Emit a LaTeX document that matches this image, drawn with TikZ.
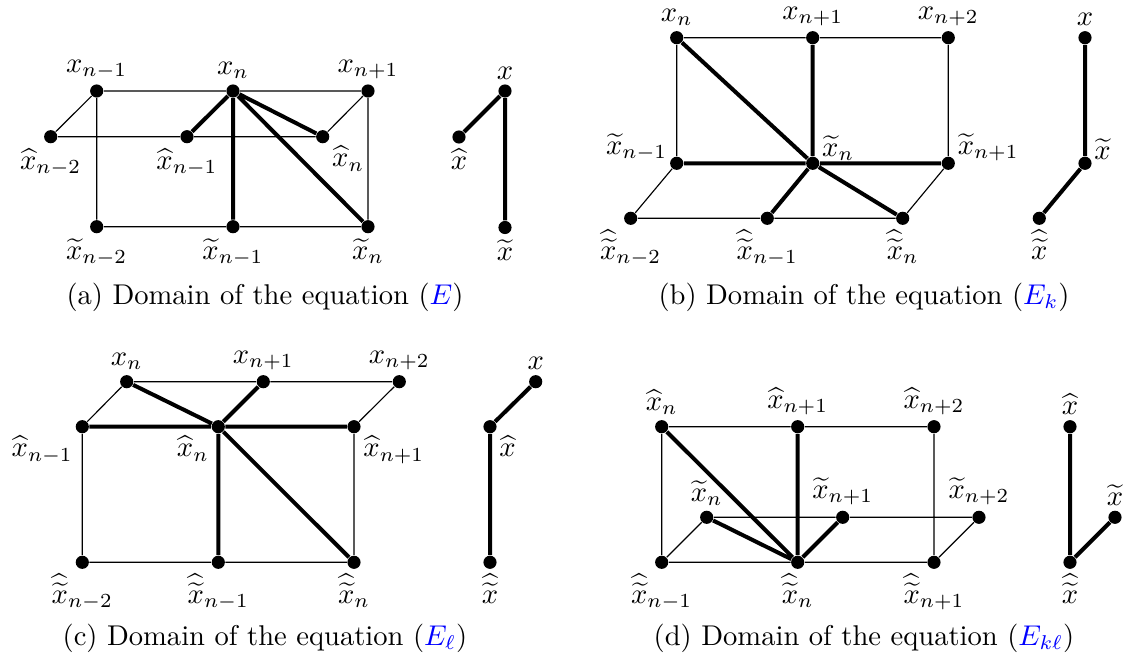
\documentclass[tikz,border=0pt]{standalone}
\usepackage{amsmath,amssymb}
\newcommand{\dbl}[1]{\widehat{\widetilde{#1}}}
\begin{document}
\begin{tikzpicture}[x=0.35pt,y=-0.35pt,
  dot/.style={circle,fill=black,inner sep=0pt,minimum size=4.6pt},
  thinl/.style={line width=0.4pt},
  boldl/.style={line width=1.4pt},
  every label/.style={inner sep=1pt},
  label distance=0.5pt]
\useasboundingbox (0,0) rectangle (1125,661);
% ---------------- (a)
\node[dot,label=above:{$x_{n-1}$}] (a1) at (96.7,91) {};
\node[dot,label=above:{$x_{n}$}] (a2) at (233,91) {};
\node[dot,label=above:{$x_{n+1}$}] (a3) at (368,91) {};
\node[dot,label=below:{$\widehat{x}_{n-2}$}] (a4) at (50.7,136.7) {};
\node[dot,label=below:{$\widehat{x}_{n-1}$}] (a5) at (187,136.7) {};
\node[dot,label=below right:{$\widehat{x}_{n}$}] (a6) at (322.7,136.7) {};
\node[dot,label=below:{$\widetilde{x}_{n-2}$}] (a7) at (96.7,226.7) {};
\node[dot,label=below:{$\widetilde{x}_{n-1}$}] (a8) at (233,226.7) {};
\node[dot,label=below:{$\widetilde{x}_{n}$}] (a9) at (368,226.7) {};
\draw[thinl] (a1)--(a2)--(a3) (a4)--(a5)--(a6) (a7)--(a8)--(a9)
  (a4)--(a1)--(a7) (a6)--(a3)--(a9);
\draw[boldl] (a2)--(a5) (a2)--(a8) (a2)--(a6) (a2)--(a9);
\node[dot,label=above:{$x$}] (s1) at (505,91) {};
\node[dot,label=below:{$\widehat{x}$}] (s2) at (459,137) {};
\node[dot,label=below:{$\widetilde{x}$}] (s3) at (505,227.5) {};
\draw[boldl] (s1)--(s2) (s1)--(s3);
\node (ca) at (265,297) {(a) Domain of the equation ($\textcolor{blue}{E}$)};
% ---------------- (b)
\node[dot,label=above:{$x_{n}$}] (b1) at (676.7,37.7) {};
\node[dot,label=above:{$x_{n+1}$}] (b2) at (812.7,37.7) {};
\node[dot,label=above:{$x_{n+2}$}] (b3) at (948.3,37.7) {};
\node[dot,label={[yshift=-2.5pt]above left:{$\widetilde{x}_{n-1}$}}] (b4) at (676.7,163.3) {};
\node[dot,label={[yshift=-2.5pt]above right:{$\widetilde{x}_{n}$}}] (b5) at (812.7,163.3) {};
\node[dot,label={[yshift=-2.5pt]above right:{$\widetilde{x}_{n+1}$}}] (b6) at (948.3,163.3) {};
\node[dot,label=below:{$\dbl{x}_{n-2}$}] (b7) at (630.7,218.3) {};
\node[dot,label=below:{$\dbl{x}_{n-1}$}] (b8) at (767.3,218.3) {};
\node[dot,label=below:{$\dbl{x}_{n}$}] (b9) at (902.7,218.3) {};
\draw[thinl] (b1)--(b2)--(b3) (b7)--(b8)--(b9)
  (b1)--(b4)--(b7) (b3)--(b6)--(b9);
\draw[boldl] (b1)--(b5) (b2)--(b5) (b4)--(b5)--(b6) (b5)--(b8) (b5)--(b9);
\node[dot,label=above:{$x$}] (t1) at (1085,37.7) {};
\node[dot,label={[yshift=-2pt]above right:{$\widetilde{x}$}}] (t2) at (1085,163.3) {};
\node[dot,label=below:{$\dbl{x}$}] (t3) at (1039.3,218.3) {};
\draw[boldl] (t1)--(t2)--(t3);
\node (cb) at (864,297) {(b) Domain of the equation ($\textcolor{blue}{E_k}$)};
% ---------------- (c)
\node[dot,label=above:{$x_{n}$}] (c1) at (126.7,381.7) {};
\node[dot,label=above:{$x_{n+1}$}] (c2) at (263.3,381.7) {};
\node[dot,label=above:{$x_{n+2}$}] (c3) at (399.3,381.7) {};
\node[dot,label=below left:{$\widehat{x}_{n-1}$}] (c4) at (82.3,426.7) {};
\node[dot,label=below left:{$\widehat{x}_{n}$}] (c5) at (218.3,426.7) {};
\node[dot,label=below right:{$\widehat{x}_{n+1}$}] (c6) at (354,426.7) {};
\node[dot,label=below:{$\dbl{x}_{n-2}$}] (c7) at (82.3,562.3) {};
\node[dot,label=below:{$\dbl{x}_{n-1}$}] (c8) at (218.3,562.3) {};
\node[dot,label=below:{$\dbl{x}_{n}$}] (c9) at (354,562.3) {};
\draw[thinl] (c1)--(c2)--(c3) (c7)--(c8)--(c9)
  (c1)--(c4)--(c7) (c3)--(c6)--(c9);
\draw[boldl] (c1)--(c5) (c2)--(c5) (c4)--(c5)--(c6) (c5)--(c8) (c5)--(c9);
\node[dot,label=above:{$x$}] (u1) at (535.7,381.7) {};
\node[dot,label=below right:{$\widehat{x}$}] (u2) at (490,426.7) {};
\node[dot,label=below:{$\dbl{x}$}] (u3) at (490,562.3) {};
\draw[boldl] (u1)--(u2)--(u3);
\node (cc) at (265,638) {(c) Domain of the equation ($\textcolor{blue}{E_\ell}$)};
% ---------------- (d)
\node[dot,label=above:{$\widehat{x}_{n}$}] (d1) at (661.7,426.7) {};
\node[dot,label=above:{$\widehat{x}_{n+1}$}] (d2) at (797.7,426.7) {};
\node[dot,label=above:{$\widehat{x}_{n+2}$}] (d3) at (934,426.7) {};
\node[dot,label=above:{$\widetilde{x}_{n}$}] (d4) at (706.7,517.3) {};
\node[dot,label=above:{$\widetilde{x}_{n+1}$}] (d5) at (842.7,517.3) {};
\node[dot,label=above:{$\widetilde{x}_{n+2}$}] (d6) at (979,517.3) {};
\node[dot,label=below:{$\dbl{x}_{n-1}$}] (d7) at (661.7,562.3) {};
\node[dot,label=below:{$\dbl{x}_{n}$}] (d8) at (797.7,562.3) {};
\node[dot,label=below:{$\dbl{x}_{n+1}$}] (d9) at (934,562.3) {};
\draw[thinl] (d1)--(d2)--(d3) (d4)--(d5)--(d6) (d7)--(d8)--(d9)
  (d1)--(d7) (d3)--(d9) (d4)--(d7) (d6)--(d9);
\draw[boldl] (d1)--(d8) (d2)--(d8) (d4)--(d8) (d5)--(d8);
\node[dot,label=above:{$\widehat{x}$}] (v1) at (1070,426.7) {};
\node[dot,label=above:{$\widetilde{x}$}] (v2) at (1115,517.3) {};
\node[dot,label=below:{$\dbl{x}$}] (v3) at (1070,562.3) {};
\draw[boldl] (v1)--(v3) (v2)--(v3);
\node (cd) at (864,638) {(d) Domain of the equation ($\textcolor{blue}{E_{k\ell}}$)};
\end{tikzpicture}
\end{document}
